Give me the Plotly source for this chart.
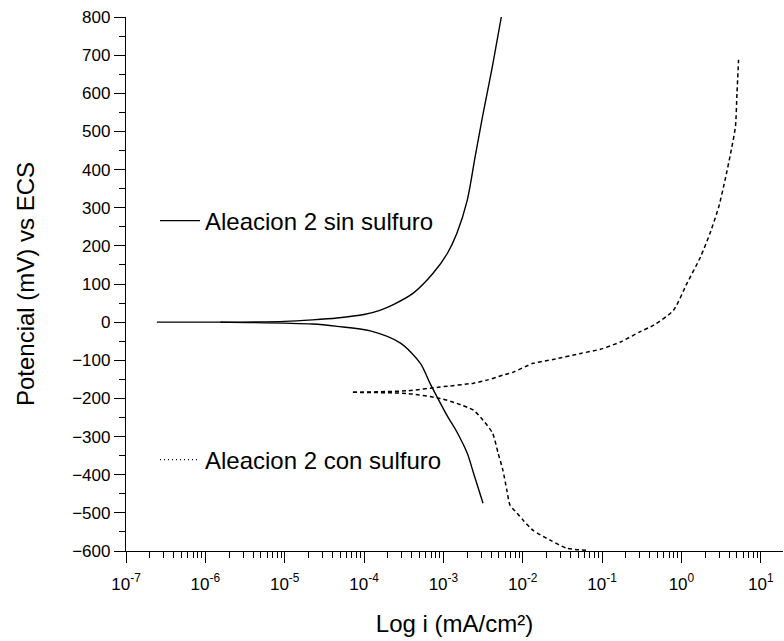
import plotly.graph_objects as go

# ---- data (current density in mA/cm², potential in mV vs ECS) ----
sin_anod_i = [2.45e-7, 1.55e-6, 1.0e-5, 2.24e-5, 4.57e-5, 1.0e-4, 1.58e-4, 2.34e-4, 4.17e-4,
              7.41e-4, 1.12e-3, 1.48e-3, 2.0e-3, 2.51e-3, 3.16e-3, 4.17e-3, 5.37e-3]
sin_anod_E = [0, 0, 2, 6, 11, 20, 31, 46, 76, 128, 180, 233, 320, 433, 546, 673, 800]

sin_cat_i = [1.55e-6, 2.24e-5, 4.57e-5, 1.20e-4, 2.88e-4, 5.13e-4, 6.76e-4, 8.32e-4,
             1.12e-3, 1.48e-3, 2.0e-3, 2.40e-3, 3.16e-3]
sin_cat_E = [0, -5, -11, -23, -55, -108, -160, -196, -246, -288, -344, -396, -475]

con_anod_i = [7.24e-5, 3.47e-4, 9.12e-4, 2.40e-3, 3.55e-3, 5.62e-3, 7.59e-3, 1.35e-2,
              2.40e-2, 5.37e-2, 9.55e-2, 0.170, 0.302, 0.447, 0.794, 1.17, 1.74, 2.29,
              2.95, 3.55, 4.17, 4.79, 5.01, 5.25]
con_anod_E = [-184, -180, -170, -160, -152, -139, -131, -108, -98, -82, -71, -52, -25,
              -8, 31, 101, 171, 233, 302, 373, 443, 512, 600, 688]

con_cat_i = [7.24e-5, 3.47e-4, 9.12e-4, 1.48e-3, 2.40e-3, 3.16e-3, 4.17e-3, 4.90e-3,
             5.62e-3, 6.31e-3, 6.92e-3, 8.51e-3, 1.02e-2, 1.35e-2, 2.24e-2, 3.63e-2, 6.46e-2]
con_cat_E = [-184, -187, -200, -213, -231, -257, -291, -344, -388, -441, -480, -501,
             -520, -546, -572, -593, -598]

x_tickvals = [1e-7, 1e-6, 1e-5, 1e-4, 1e-3, 1e-2, 1e-1, 1e0, 1e1]
x_ticktext = ["10<sup>-7</sup>", "10<sup>-6</sup>", "10<sup>-5</sup>", "10<sup>-4</sup>",
              "10<sup>-3</sup>", "10<sup>-2</sup>", "10<sup>-1</sup>", "10<sup>0</sup>",
              "10<sup>1</sup>"]

name_sin = "Aleacion 2 sin sulfuro"
name_con = "Aleacion 2 con sulfuro"

FONT = "Liberation Sans, Arial, sans-serif"

fig = go.Figure()
solid = dict(color="black", width=1.4, shape="spline", smoothing=0.8)
dashed = dict(color="black", width=1.5, dash="4px,3px", shape="spline", smoothing=0.6)

fig.add_trace(go.Scatter(x=sin_anod_i, y=sin_anod_E, mode="lines", line=solid,
                         name=name_sin, legend="legend"))
fig.add_trace(go.Scatter(x=sin_cat_i, y=sin_cat_E, mode="lines", line=solid,
                         showlegend=False))
fig.add_trace(go.Scatter(x=con_anod_i, y=con_anod_E, mode="lines", line=dashed,
                         showlegend=False))
fig.add_trace(go.Scatter(x=con_cat_i, y=con_cat_E, mode="lines", line=dashed,
                         showlegend=False))
# legend proxy (dotted sample as in the original)
fig.add_trace(go.Scatter(x=[None], y=[None], mode="lines",
                         line=dict(color="black", width=1.2, dash="1px,3px"),
                         name=name_con, legend="legend2"))

W, H = 784, 641
L, R, T, B = 126, 1, 17, 90

axis_common = dict(showline=True, linecolor="black", linewidth=1.3, showgrid=False,
                   zeroline=False, ticks="outside", tickcolor="black", tickwidth=1.3,
                   ticklen=11, tickfont=dict(family=FONT, size=17, color="black"))

legend_x = (155 - L) / (W - L - R)

fig.update_layout(
    width=W, height=H,
    margin=dict(l=L, r=R, t=T, b=B),
    plot_bgcolor="white", paper_bgcolor="white",
    font=dict(family=FONT, color="black"),
    xaxis=dict(type="log", range=[-7, 1.28], tickmode="array", tickvals=x_tickvals,
               ticktext=x_ticktext, ticklabelstandoff=6,
               minor=dict(ticks="outside", ticklen=6, tickcolor="black", tickwidth=1.2,
                          dtick="D1", showgrid=False),
               title=dict(text="Log i (mA/cm²)", font=dict(family=FONT, size=24),
                          standoff=22),
               **axis_common),
    yaxis=dict(range=[-600, 800], dtick=100, tick0=0,
               minor=dict(ticks="outside", ticklen=6, tickcolor="black", tickwidth=1.2,
                          dtick=50, showgrid=False),
               title=dict(text="Potencial (mV) vs ECS", font=dict(family=FONT, size=24),
                          standoff=30),
               **axis_common),
    legend=dict(x=legend_x, y=(551 - 221) / (551 - 17),
                xanchor="left", yanchor="middle", bgcolor="rgba(0,0,0,0)",
                font=dict(family=FONT, size=24, color="black"), itemwidth=40),
    legend2=dict(x=legend_x, y=(551 - 460) / (551 - 17),
                 xanchor="left", yanchor="middle", bgcolor="rgba(0,0,0,0)",
                 font=dict(family=FONT, size=24, color="black"), itemwidth=40),
)

fig.write_html("out.html")
